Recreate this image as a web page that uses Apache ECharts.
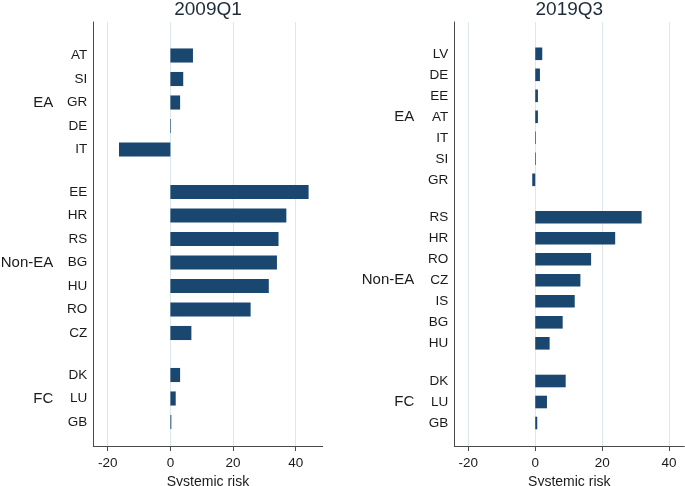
<!DOCTYPE html>
<html><head><meta charset="utf-8">
<script src="https://cdn.jsdelivr.net/npm/echarts@6/dist/echarts.min.js"></script>
<style>html,body{margin:0;padding:0;background:#fff}#c{width:685px;height:486px}</style>
</head><body><div id="c"></div>
<script>
const titles = ['2009Q1', '2019Q3'];
const groupNames = ['EA', 'Non-EA', 'FC'];
const xTicks = [-20, 0, 20, 40];
const xName = 'Systemic risk';

const catsL_EA = ['AT', 'SI', 'GR', 'DE', 'IT'];
const valsL_EA = [7.2, 4.1, 3.1, 0.2, -16.4];
const catsL_NonEA = ['EE', 'HR', 'RS', 'BG', 'HU', 'RO', 'CZ'];
const valsL_NonEA = [44.1, 37.0, 34.5, 34.0, 31.4, 25.6, 6.7];
const catsL_FC = ['DK', 'LU', 'GB'];
const valsL_FC = [3.1, 1.7, 0.3];

const catsR_EA = ['LV', 'DE', 'EE', 'AT', 'IT', 'SI', 'GR'];
const valsR_EA = [2.1, 1.4, 0.8, 0.8, 0.2, 0.2, -0.9];
const catsR_NonEA = ['RS', 'HR', 'RO', 'CZ', 'IS', 'BG', 'HU'];
const valsR_NonEA = [31.8, 23.9, 16.7, 13.5, 11.8, 8.2, 4.3];
const catsR_FC = ['DK', 'LU', 'GB'];
const valsR_FC = [9.1, 3.5, 0.6];

const FONT = '"Liberation Sans", Arial, sans-serif';
const BAR = '#1a476f';
const AXIS = '#4a4a4a';
const GRIDC = '#dce8ec';
const TXT = '#1a1a1a';

const panels = [
  { title: titles[0], left: 93.3, width: 229.4, min: -24.6, max: 48.6,
    groups: [
      { name: groupNames[0], cats: catsL_EA, vals: valsL_EA, top: 43.75, height: 117.5 },
      { name: groupNames[1], cats: catsL_NonEA, vals: valsL_NonEA, top: 180.25, height: 164.5 },
      { name: groupNames[2], cats: catsL_FC, vals: valsL_FC, top: 363.25, height: 70.5 }
    ] },
  { title: titles[1], left: 454.3, width: 230, min: -24.2, max: 44.56,
    groups: [
      { name: groupNames[0], cats: catsR_EA, vals: valsR_EA, top: 43.3, height: 147 },
      { name: groupNames[1], cats: catsR_NonEA, vals: valsR_NonEA, top: 206.8, height: 147 },
      { name: groupNames[2], cats: catsR_FC, vals: valsR_FC, top: 370.5, height: 63 }
    ] }
];

const grid = [], xAxis = [], yAxis = [], series = [], title = [];
const TOP = 22, BOTTOM_Y = 446;

panels.forEach(p => {
  const gi = grid.length;
  grid.push({ left: p.left, top: TOP, width: p.width, height: BOTTOM_Y - TOP, containLabel: false, outerBoundsMode: 'none' });
  xAxis.push({
    gridIndex: gi, type: 'value', min: p.min, max: p.max, position: 'bottom',
    axisLine: { onZero: false, lineStyle: { color: AXIS, width: 1 } },
    axisTick: { show: true, length: 5, customValues: xTicks, lineStyle: { color: AXIS } },
    axisLabel: { customValues: xTicks, fontSize: 13.5, color: TXT, margin: 10, fontFamily: FONT },
    splitLine: { show: true, lineStyle: { color: GRIDC, width: 1 } },
    name: xName, nameLocation: 'middle', nameGap: 15,
    nameTextStyle: { fontSize: 14, color: TXT, fontFamily: FONT }
  });
  yAxis.push({
    gridIndex: gi, type: 'value', min: 0, max: 1, position: 'left',
    axisLine: { show: true, onZero: false, lineStyle: { color: AXIS, width: 1 } },
    axisTick: { show: false }, axisLabel: { show: false }, splitLine: { show: false }
  });
  title.push({
    text: p.title, left: p.left + p.width / 2, top: 0.5, textAlign: 'center', padding: 0,
    textStyle: { fontSize: 19, fontWeight: 'normal', color: '#1e2b38', lineHeight: 19, fontFamily: FONT }
  });
  p.groups.forEach(g => {
    const si = grid.length;
    grid.push({ left: p.left, top: g.top, width: p.width, height: g.height, containLabel: false, outerBoundsMode: 'none' });
    xAxis.push({ gridIndex: si, type: 'value', min: p.min, max: p.max, show: false });
    const yi = yAxis.length;
    yAxis.push({
      gridIndex: si, type: 'category', data: g.cats, inverse: true, position: 'left',
      axisLine: { show: false, onZero: false }, axisTick: { show: false },
      axisLabel: { margin: 6, fontSize: 13.5, color: TXT, fontFamily: FONT },
      splitLine: { show: false }
    });
    yAxis.push({
      gridIndex: si, type: 'category', data: [g.name], position: 'left',
      axisLine: { show: false, onZero: false }, axisTick: { show: false },
      axisLabel: { margin: 40, fontSize: 15, color: TXT, fontFamily: FONT },
      splitLine: { show: false }
    });
    series.push({
      type: 'bar', xAxisIndex: si, yAxisIndex: yi, data: g.vals,
      barCategoryGap: '40%', itemStyle: { color: BAR }, silent: true
    });
  });
});

const chart = echarts.init(document.getElementById('c'), null, { renderer: 'canvas' });
chart.setOption({
  animation: false,
  backgroundColor: '#fff',
  textStyle: { fontFamily: FONT },
  title, grid, xAxis, yAxis, series
});
</script>
</body></html>
